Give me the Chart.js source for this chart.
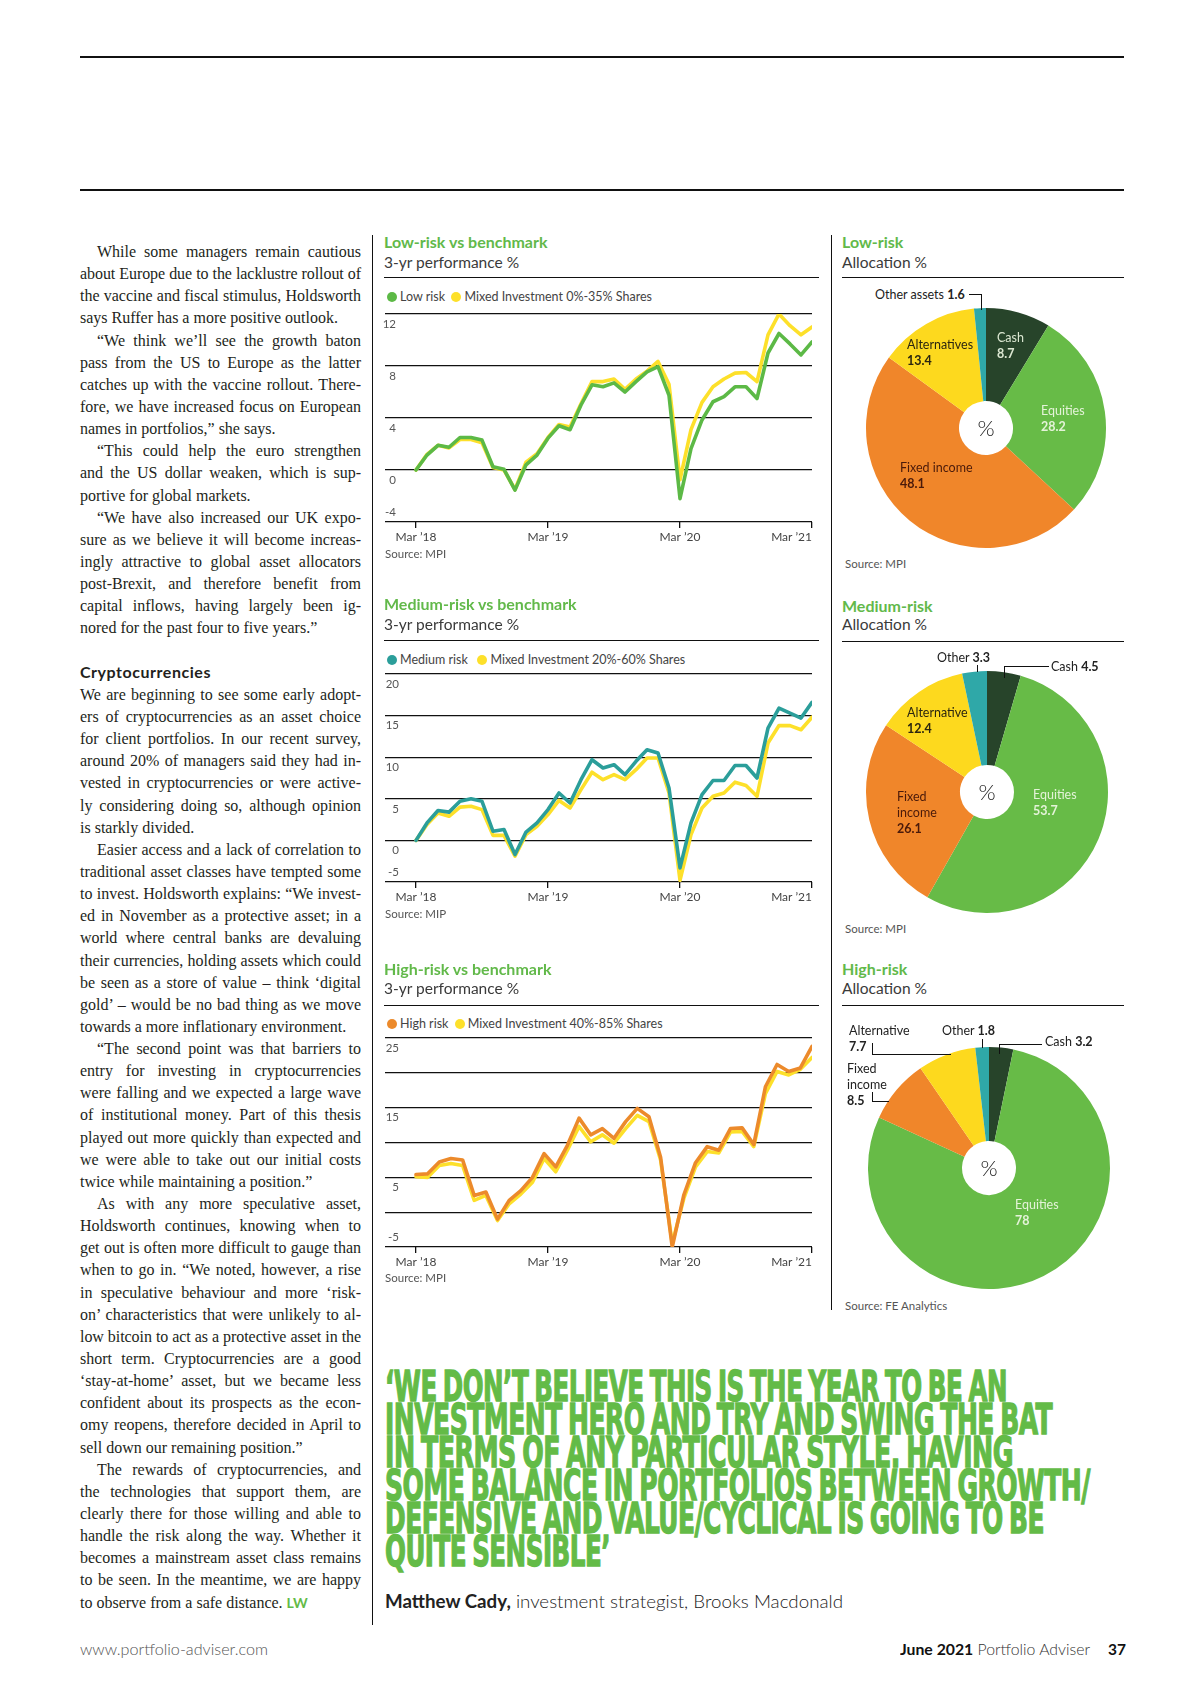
<!DOCTYPE html>
<html>
<head>
<meta charset="utf-8">
<script src="https://cdn.jsdelivr.net/npm/chart.js@4.4.0/dist/chart.umd.min.js"></script>
<style>
html, body { margin: 0; padding: 0; background: #fff; }
#page { position: relative; width: 1200px; height: 1698px; overflow: hidden; font-family: Lato, "Open Sans", sans-serif; color: #222; }
.a { position: absolute; white-space: nowrap; }
.hr { position: absolute; height: 0; border-top: 1.4px solid #111; }
.vr { position: absolute; width: 0; border-left: 1.2px solid #111; }
.ttl { font: 700 16px Lato, sans-serif; color: #62b94a; line-height: 20px; }
.sub { font: 400 15.5px Lato, sans-serif; color: #3a3a3a; line-height: 20px; }
.leg { font: 400 12.5px Lato, sans-serif; color: #444; line-height: 16px; }
.dot { display: inline-block; width: 10px; height: 10px; border-radius: 50%; vertical-align: -1px; margin-right: 3px; }
.src { font: 400 11.5px Lato, sans-serif; color: #555; line-height: 14px; }
.pl { font: 400 12.5px Lato, sans-serif; line-height: 16px; }
.pl b { font-weight: 700; }
.pct { font: 300 22px Lato, sans-serif; color: #222; line-height: 24px; }
.lead { position: absolute; border-color: #111; border-style: solid; border-width: 0; }
#body { position: absolute; left: 80px; top: 241px; width: 281px; font: 16px "Liberation Serif", serif; line-height: 22.15px; color: #231f20; }
.l { text-align: justify; text-align-last: justify; height: 22.15px; }
.l.i { text-indent: 17px; }
.l.e { text-align-last: left; }
.l.h { font: 700 16px Lato, sans-serif; text-align-last: left; }
.q { position: absolute; left: 385px; font: 700 43px "Liberation Sans Narrow", "DejaVu Sans Condensed", "Liberation Sans", sans-serif; color: #63bb47; line-height: 33px; white-space: nowrap; transform-origin: 0 50%; letter-spacing: -0.8px; word-spacing: -3px; -webkit-text-stroke: 1.3px #63bb47; }
canvas { position: absolute; }
</style>
</head>
<body>
<div id="page">
  <div class="hr" style="left:80px;top:56px;width:1044px;border-top-width:2px"></div>
  <div class="hr" style="left:80px;top:189px;width:1044px;border-top-width:2px"></div>

  <div class="vr" style="left:372px;top:235px;height:1390px"></div>
  <div class="vr" style="left:831px;top:235px;height:1075px"></div>

  <div id="body">
    <div class="l i">While some managers remain cautious</div>
    <div class="l">about Europe due to the lacklustre rollout of</div>
    <div class="l">the vaccine and fiscal stimulus, Holdsworth</div>
    <div class="l e">says Ruffer has a more positive outlook.</div>
    <div class="l i">“We think we’ll see the growth baton</div>
    <div class="l">pass from the US to Europe as the latter</div>
    <div class="l">catches up with the vaccine rollout. There-</div>
    <div class="l">fore, we have increased focus on European</div>
    <div class="l e">names in portfolios,” she says.</div>
    <div class="l i">“This could help the euro strengthen</div>
    <div class="l">and the US dollar weaken, which is sup-</div>
    <div class="l e">portive for global markets.</div>
    <div class="l i">“We have also increased our UK expo-</div>
    <div class="l">sure as we believe it will become increas-</div>
    <div class="l">ingly attractive to global asset allocators</div>
    <div class="l">post-Brexit, and therefore benefit from</div>
    <div class="l">capital inflows, having largely been ig-</div>
    <div class="l e">nored for the past four to five years.”</div>
    <div class="l e"></div>
    <div class="l h" data-w="131">Cryptocurrencies</div>
    <div class="l">We are beginning to see some early adopt-</div>
    <div class="l">ers of cryptocurrencies as an asset choice</div>
    <div class="l">for client portfolios. In our recent survey,</div>
    <div class="l">around 20% of managers said they had in-</div>
    <div class="l">vested in cryptocurrencies or were active-</div>
    <div class="l">ly considering doing so, although opinion</div>
    <div class="l e">is starkly divided.</div>
    <div class="l i">Easier access and a lack of correlation to</div>
    <div class="l">traditional asset classes have tempted some</div>
    <div class="l">to invest. Holdsworth explains: “We invest-</div>
    <div class="l">ed in November as a protective asset; in a</div>
    <div class="l">world where central banks are devaluing</div>
    <div class="l">their currencies, holding assets which could</div>
    <div class="l">be seen as a store of value – think ‘digital</div>
    <div class="l">gold’ – would be no bad thing as we move</div>
    <div class="l e">towards a more inflationary environment.</div>
    <div class="l i">“The second point was that barriers to</div>
    <div class="l">entry for investing in cryptocurrencies</div>
    <div class="l">were falling and we expected a large wave</div>
    <div class="l">of institutional money. Part of this thesis</div>
    <div class="l">played out more quickly than expected and</div>
    <div class="l">we were able to take out our initial costs</div>
    <div class="l e">twice while maintaining a position.”</div>
    <div class="l i">As with any more speculative asset,</div>
    <div class="l">Holdsworth continues, knowing when to</div>
    <div class="l">get out is often more difficult to gauge than</div>
    <div class="l">when to go in. “We noted, however, a rise</div>
    <div class="l">in speculative behaviour and more ‘risk-</div>
    <div class="l">on’ characteristics that were unlikely to al-</div>
    <div class="l">low bitcoin to act as a protective asset in the</div>
    <div class="l">short term. Cryptocurrencies are a good</div>
    <div class="l">‘stay-at-home’ asset, but we became less</div>
    <div class="l">confident about its prospects as the econ-</div>
    <div class="l">omy reopens, therefore decided in April to</div>
    <div class="l e">sell down our remaining position.”</div>
    <div class="l i">The rewards of cryptocurrencies, and</div>
    <div class="l">the technologies that support them, are</div>
    <div class="l">clearly there for those willing and able to</div>
    <div class="l">handle the risk along the way. Whether it</div>
    <div class="l">becomes a mainstream asset class remains</div>
    <div class="l">to be seen. In the meantime, we are happy</div>
    <div class="l e">to observe from a safe distance. <b style="font:700 14px Lato,sans-serif;color:#63bb47">LW</b></div>
  </div>

  <!-- line charts -->
  <div class="a ttl" style="left:384px;top:232px">Low-risk vs benchmark</div>
  <div class="a sub" style="left:384px;top:252px">3-yr performance %</div>
  <div class="hr" style="left:384px;top:277px;width:435px"></div>
  <div class="a leg" style="left:387px;top:289px"><span class="dot" style="background:#5cb946"></span>Low risk&nbsp; <span class="dot" style="background:#fde02a"></span>Mixed Investment 0%-35% Shares</div>
  <canvas id="lowLine" width="450" height="242" style="left:383px;top:306px"></canvas>
  <div class="a src" style="left:385px;top:547px">Source: MPI</div>

  <div class="a ttl" style="left:384px;top:594px">Medium-risk vs benchmark</div>
  <div class="a sub" style="left:384px;top:614px">3-yr performance %</div>
  <div class="hr" style="left:384px;top:640px;width:435px"></div>
  <div class="a leg" style="left:387px;top:652px"><span class="dot" style="background:#2b9e9a"></span>Medium risk&nbsp;&nbsp; <span class="dot" style="background:#fde02a"></span>Mixed Investment 20%-60% Shares</div>
  <canvas id="medLine" width="450" height="242" style="left:383px;top:666px"></canvas>
  <div class="a src" style="left:385px;top:907px">Source: MIP</div>

  <div class="a ttl" style="left:384px;top:959px">High-risk vs benchmark</div>
  <div class="a sub" style="left:384px;top:978px">3-yr performance %</div>
  <div class="hr" style="left:384px;top:1005px;width:435px"></div>
  <div class="a leg" style="left:387px;top:1016px"><span class="dot" style="background:#ec8a2b"></span>High risk&nbsp; <span class="dot" style="background:#fde02a"></span>Mixed Investment 40%-85% Shares</div>
  <canvas id="highLine" width="450" height="243" style="left:383px;top:1030px"></canvas>
  <div class="a src" style="left:385px;top:1271px">Source: MPI</div>

  <!-- allocation pies -->
  <div class="a ttl" style="left:842px;top:232px">Low-risk</div>
  <div class="a sub" style="left:842px;top:252px">Allocation %</div>
  <div class="hr" style="left:842px;top:277px;width:282px"></div>
  <canvas id="lowPie" width="250" height="250" style="left:861px;top:303px"></canvas>
  <div class="a pct" style="left:966px;top:416px;width:40px;text-align:center">%</div>
  <div class="a pl" style="left:875px;top:287px;color:#222">Other assets <b>1.6</b></div>
  <div class="lead" style="left:969px;top:294px;width:12px;height:15px;border-top-width:1.3px;border-right-width:1.3px"></div>
  <div class="a pl" style="left:907px;top:337px;color:#2b2610">Alternatives<br><b>13.4</b></div>
  <div class="a pl" style="left:997px;top:330px;color:#dce8d2">Cash<br><b>8.7</b></div>
  <div class="a pl" style="left:1041px;top:403px;color:#e4f3d8">Equities<br><b>28.2</b></div>
  <div class="a pl" style="left:900px;top:460px;color:#4a1a0a">Fixed income<br><b>48.1</b></div>
  <div class="a src" style="left:845px;top:557px">Source: MPI</div>

  <div class="a ttl" style="left:842px;top:596px">Medium-risk</div>
  <div class="a sub" style="left:842px;top:614px">Allocation %</div>
  <div class="hr" style="left:842px;top:641px;width:282px"></div>
  <canvas id="medPie" width="250" height="250" style="left:862px;top:667px"></canvas>
  <div class="a pct" style="left:967px;top:780px;width:40px;text-align:center">%</div>
  <div class="a pl" style="left:937px;top:650px;color:#222">Other <b>3.3</b></div>
  <div class="lead" style="left:977px;top:665px;width:0;height:7px;border-left-width:1.3px"></div>
  <div class="lead" style="left:1004px;top:666px;width:44px;height:11px;border-top-width:1.3px;border-left-width:1.3px"></div>
  <div class="a pl" style="left:1051px;top:659px;color:#222">Cash <b>4.5</b></div>
  <div class="a pl" style="left:907px;top:705px;color:#2b2610">Alternative<br><b>12.4</b></div>
  <div class="a pl" style="left:897px;top:789px;color:#4a1a0a">Fixed<br>income<br><b>26.1</b></div>
  <div class="a pl" style="left:1033px;top:787px;color:#e4f3d8">Equities<br><b>53.7</b></div>
  <div class="a src" style="left:845px;top:922px">Source: MPI</div>

  <div class="a ttl" style="left:842px;top:959px">High-risk</div>
  <div class="a sub" style="left:842px;top:978px">Allocation %</div>
  <div class="hr" style="left:842px;top:1005px;width:282px"></div>
  <canvas id="highPie" width="250" height="250" style="left:864px;top:1043px"></canvas>
  <div class="a pct" style="left:969px;top:1156px;width:40px;text-align:center">%</div>
  <div class="a pl" style="left:849px;top:1023px;color:#222">Alternative<br><b>7.7</b></div>
  <div class="lead" style="left:872px;top:1043px;width:78px;height:11px;border-left-width:1.3px;border-bottom-width:1.3px"></div>
  <div class="a pl" style="left:942px;top:1023px;color:#222">Other <b>1.8</b></div>
  <div class="lead" style="left:982px;top:1039px;width:0;height:9px;border-left-width:1.3px"></div>
  <div class="lead" style="left:999px;top:1044px;width:42px;height:9px;border-top-width:1.3px;border-left-width:1.3px"></div>
  <div class="a pl" style="left:1045px;top:1034px;color:#222">Cash <b>3.2</b></div>
  <div class="a pl" style="left:847px;top:1061px;color:#222">Fixed<br>income<br><b>8.5</b></div>
  <div class="lead" style="left:872px;top:1092px;width:16px;height:9px;border-left-width:1.3px;border-bottom-width:1.3px"></div>
  <div class="a pl" style="left:1015px;top:1197px;color:#e4f3d8">Equities<br><b>78</b></div>
  <div class="a src" style="left:845px;top:1299px">Source: FE Analytics</div>

  <!-- pull quote -->
  <div class="q" data-w="622" style="top:1370px">‘WE DON’T BELIEVE THIS IS THE YEAR TO BE AN</div>
  <div class="q" data-w="667" style="top:1403px">INVESTMENT HERO AND TRY AND SWING THE BAT</div>
  <div class="q" data-w="628" style="top:1436px">IN TERMS OF ANY PARTICULAR STYLE. HAVING</div>
  <div class="q" data-w="705" style="top:1469px">SOME BALANCE IN PORTFOLIOS BETWEEN GROWTH/</div>
  <div class="q" data-w="659" style="top:1502px">DEFENSIVE AND VALUE/CYCLICAL IS GOING TO BE</div>
  <div class="q" data-w="225" style="top:1535px">QUITE SENSIBLE’</div>

  <div class="a fit" data-w="458" style="left:385px;top:1589px;font:300 18px Lato,sans-serif;color:#222;line-height:24px;transform-origin:0 50%"><b style="font-weight:700">Matthew Cady,</b> investment strategist, Brooks Macdonald</div>

  <div class="a fit" data-w="188" style="left:80px;top:1639px;font:300 15px Lato,sans-serif;color:#555;line-height:20px;transform-origin:0 50%">www.portfolio-adviser.com</div>
  <div class="a fit" data-w="190" style="left:900px;top:1639px;font:300 15.5px Lato,sans-serif;color:#333;line-height:20px;transform-origin:0 50%"><b style="font-weight:700;color:#111">June 2021</b> Portfolio Adviser</div>
  <div class="a" style="left:1108px;top:1639px;font:700 15.5px Lato,sans-serif;color:#111;line-height:20px">37</div>
</div>

<script>
// performance series, monthly from Mar 2018 to Mar 2021
const lowRisk  = [0, 1.15, 1.9, 1.75, 2.5, 2.5, 2.3, 0.25, 0.05, -1.55, 0.4, 1.15, 2.45, 3.4, 3.1, 5.0, 6.55, 6.4, 6.7, 6.0, 6.8, 7.55, 7.95, 5.75, -2.2, 1.65, 3.85, 5.25, 5.65, 6.4, 6.4, 5.5, 9.0, 10.5, 9.7, 8.85, 9.85];
const lowBench = [0, 1.2, 1.9, 1.7, 2.35, 2.35, 2.1, 0.2, 0.0, -1.5, 0.6, 1.25, 2.5, 3.5, 3.3, 5.1, 6.8, 6.8, 7.0, 6.2, 7.0, 7.6, 8.35, 6.6, -0.75, 3.1, 5.2, 6.4, 7.0, 7.45, 7.5, 6.8, 10.4, 12.0, 11.1, 10.4, 11.0];
const medRisk  = [0, 2.1, 3.6, 3.4, 4.7, 5.0, 4.7, 1.1, 1.3, -1.7, 1.0, 2.1, 3.7, 5.7, 4.5, 7.3, 9.7, 8.7, 9.1, 7.9, 9.5, 10.9, 10.5, 6.3, -3.3, 2.1, 5.5, 7.2, 7.2, 9.0, 9.0, 7.5, 13.5, 15.9, 15.3, 14.7, 16.6];
const medBench = [0, 1.9, 3.3, 2.9, 4.0, 4.1, 3.7, 0.6, 0.6, -1.9, 0.7, 1.7, 3.1, 4.8, 3.9, 6.1, 8.2, 7.3, 7.9, 7.3, 8.5, 9.9, 9.9, 5.7, -4.8, 0.7, 3.9, 5.3, 5.7, 7.0, 6.6, 5.3, 11.7, 13.8, 13.8, 13.3, 14.8];
const highRisk  = [5.4, 5.5, 7.2, 7.7, 7.5, 2.4, 2.9, -1.0, 1.7, 3.1, 5.0, 8.4, 6.5, 9.6, 13.5, 11.1, 12.0, 10.6, 13.0, 14.9, 13.7, 7.9, -5.0, 2.5, 7.1, 9.4, 8.9, 12.0, 12.1, 9.7, 18.0, 21.2, 20.2, 20.7, 23.8];
const highBench = [5.1, 5.0, 6.7, 7.0, 6.7, 1.7, 2.4, -1.2, 1.2, 2.6, 4.3, 7.7, 5.8, 8.9, 12.3, 10.1, 11.1, 9.9, 12.0, 13.9, 13.0, 7.5, -4.5, 2.0, 6.5, 8.7, 8.5, 11.5, 11.6, 9.4, 17.0, 20.2, 19.7, 20.5, 22.2];
const xTickLabels = ['Mar ’18', 'Mar ’19', 'Mar ’20', 'Mar ’21'];
const lowGrid = [12, 8, 4, 0, -4];
const medGrid = [20, 15, 10, 5, 0, -5];
const highGrid = [25, 20, 15, 10, 5, 0, -5];
const highTickLabels = [25, 15, 5, -5];

// allocation %
const allocLabels = ['Cash', 'Equities', 'Fixed income', 'Alternatives', 'Other'];
const lowAlloc  = [8.7, 28.2, 48.1, 13.4, 1.6];
const medAlloc  = [4.5, 53.7, 26.1, 12.4, 3.3];
const highAlloc = [3.2, 78, 8.5, 7.7, 1.8];
const allocColors = ['#27442a', '#67bb47', '#f0862a', '#fdd91e', '#2fa8a8'];

const YELLOW = '#fde02a';
const chartFont = 'Lato, "Open Sans", sans-serif';

// body text: squeeze tight lines so each printed line stays on one line
(function fitBody() {
    const c = document.createElement('canvas').getContext('2d');
    document.querySelectorAll('#body .l').forEach(el => {
        const txt = el.textContent;
        if (!txt) return;
        const cs = getComputedStyle(el);
        c.font = cs.fontWeight + ' ' + cs.fontSize + ' ' + cs.fontFamily;
        const avail = 281 - (el.classList.contains('i') ? 17 : 0) - 1;
        const w = c.measureText(txt).width;
        if (el.dataset.w) {
            el.style.letterSpacing = ((+el.dataset.w - w) / txt.length) + 'px';
        } else if (w > avail) {
            el.style.letterSpacing = ((avail - w) / txt.length) + 'px';
        }
    });
})();

// squash single-line headings to the printed width
document.querySelectorAll('.q, .fit').forEach(el => {
    const w = el.getBoundingClientRect().width;
    el.style.transform = 'scaleX(' + (+el.dataset.w / w) + ')';
});

// y labels sit just under each gridline, the bottom one just above the axis
const yTickLabels = {
    id: 'yTickLabels',
    afterDraw(chart, args, opts) {
        const s = chart.scales.y;
        const ctx = chart.ctx;
        ctx.save();
        ctx.font = '11.5px ' + chartFont;
        ctx.fillStyle = '#555';
        ctx.textAlign = 'right';
        ctx.textBaseline = 'middle';
        opts.labels.forEach(v => {
            const y = s.getPixelForValue(v) + (v === s.min ? -10 : 10);
            ctx.fillText(String(v), chart.chartArea.left + opts.right, y);
        });
        ctx.restore();
    }
};

function lineChart(id, main, bench, color, grid, labels, labelRight) {
    const n = main.length - 1;
    const xMin = -n * 31 / 396;
    const tickPos = xTickLabels.map((_, i) => i * n / 3);
    return new Chart(document.getElementById(id), {
        type: 'line',
        data: {
            datasets: [
                { data: main.map((v, i) => ({ x: i, y: v })), borderColor: color },
                { data: bench.map((v, i) => ({ x: i, y: v })), borderColor: YELLOW }
            ]
        },
        options: {
            responsive: false,
            animation: false,
            layout: { padding: { top: 8, left: 2, right: 21, bottom: 0 } },
            elements: {
                line: { borderWidth: 3.6, tension: 0, borderJoinStyle: 'round', borderCapStyle: 'round' },
                point: { radius: 0 }
            },
            plugins: {
                legend: { display: false },
                tooltip: { enabled: false },
                yTickLabels: { labels: labels, right: labelRight }
            },
            scales: {
                x: {
                    type: 'linear', min: xMin, max: n,
                    afterBuildTicks: s => { s.ticks = [{ value: xMin }].concat(tickPos.map(v => ({ value: v }))); },
                    afterFit: s => { s.height = 26; },
                    ticks: {
                        align: 'inner', autoSkip: false, maxRotation: 0, padding: 2,
                        color: '#444', font: { family: chartFont, size: 12 },
                        callback: (v, i) => i === 0 ? '' : xTickLabels[i - 1]
                    },
                    grid: {
                        drawOnChartArea: false, drawTicks: true, tickLength: 6, lineWidth: 1.3,
                        tickColor: c => c.index === 0 ? 'rgba(0,0,0,0)' : '#111'
                    },
                    border: { display: false }
                },
                y: {
                    min: grid[grid.length - 1], max: grid[0],
                    afterBuildTicks: s => { s.ticks = grid.map(v => ({ value: v })); },
                    ticks: { display: false },
                    grid: { color: '#111', lineWidth: 1.3, drawTicks: false },
                    border: { display: false }
                }
            }
        },
        plugins: [yTickLabels]
    });
}

function pieChart(id, values, pad) {
    return new Chart(document.getElementById(id), {
        type: 'doughnut',
        data: {
            labels: allocLabels,
            datasets: [{ data: values, backgroundColor: allocColors, borderWidth: 0 }]
        },
        options: {
            responsive: false,
            animation: false,
            cutout: 27,
            layout: { padding: pad },
            plugins: { legend: { display: false }, tooltip: { enabled: false } }
        }
    });
}

lineChart('lowLine', lowRisk, lowBench, '#5cb946', lowGrid, lowGrid, 11);
lineChart('medLine', medRisk, medBench, '#2b9e9a', medGrid, medGrid, 14);
lineChart('highLine', highRisk, highBench, '#ec8a2b', highGrid, highTickLabels, 14);

pieChart('lowPie', lowAlloc, 5);
pieChart('medPie', medAlloc, 4);
pieChart('highPie', highAlloc, 4);
</script>
</body>
</html>
